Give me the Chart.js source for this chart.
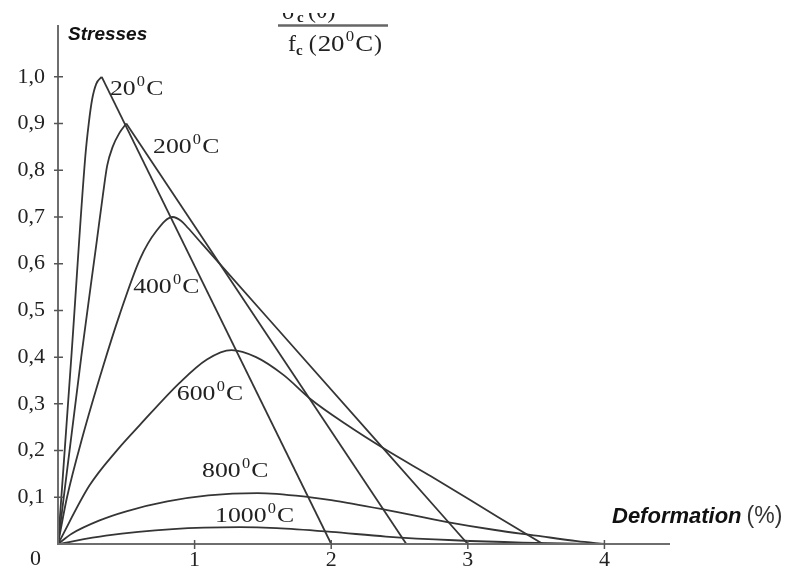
<!DOCTYPE html>
<html>
<head>
<meta charset="utf-8">
<script src="https://cdn.jsdelivr.net/npm/chart.js@4.4.1/dist/chart.umd.min.js"></script>
<style>
  html, body { margin: 0; padding: 0; background: #ffffff; }
  canvas { display: block; }
</style>
</head>
<body>
<canvas id="chart" width="789" height="571"></canvas>
<script>
// Normalised stress sigma_c(theta) / f_c(20°C) against strain (%) for each temperature
const temps = ['20', '200', '400', '600', '800', '1000'];

const eps20  = [0, 0.10, 0.20, 0.225, 0.25, 0.28, 0.32, 2.0];
const sig20  = [0, 0.41, 0.83, 0.90, 0.952, 0.985, 1.0, 0];

const eps200 = [0, 0.17, 0.28, 0.33, 0.36, 0.40, 0.45, 0.50, 2.55];
const sig200 = [0, 0.40, 0.64, 0.75, 0.81, 0.85, 0.88, 0.90, 0];

const eps400 = [0, 0.066, 0.18, 0.33, 0.45, 0.60, 0.72, 0.84, 0.90, 0.95, 1.05, 1.55, 2.41, 3.0];
const sig400 = [0, 0.10, 0.23, 0.38, 0.49, 0.61, 0.67, 0.70, 0.692, 0.677, 0.644, 0.479, 0.195, 0];

const eps600 = [0, 0.23, 0.43, 0.60, 0.89, 1.09, 1.27, 1.45, 1.65, 1.85, 2.1, 2.41, 2.73, 3.22, 3.55];
const sig600 = [0, 0.125, 0.20, 0.255, 0.345, 0.395, 0.415, 0.40, 0.362, 0.31, 0.258, 0.20, 0.145, 0.058, 0];

const eps800 = [0, 0.10, 0.30, 0.50, 0.80, 1.1, 1.46, 1.85, 2.0, 2.4, 2.85, 3.2, 3.5, 3.8, 4.0];
const sig800 = [0, 0.022, 0.05, 0.07, 0.091, 0.104, 0.109, 0.10, 0.094, 0.073, 0.047, 0.03, 0.018, 0.006, 0];

const eps1000 = [0, 0.35, 0.84, 1.33, 1.6, 2.0, 2.4, 2.9, 3.4, 4.0];
const sig1000 = [0, 0.018, 0.032, 0.036, 0.034, 0.026, 0.016, 0.008, 0.003, 0];

// Axis ticks
const xTickValues = [1, 2, 3, 4];
const xTickLabels = ['1', '2', '3', '4'];
const yTickValues = [0.1, 0.2, 0.3, 0.4, 0.5, 0.6, 0.7, 0.8, 0.9, 1.0];
const yTickLabels = ['0,1', '0,2', '0,3', '0,4', '0,5', '0,6', '0,7', '0,8', '0,9', '1,0'];

// Curve label anchors (strain %, stress ratio) at the left end of each text baseline
const labelAnchorX = [0.38, 0.696, 0.55, 0.87, 1.055, 1.15];
const labelAnchorY = [0.961, 0.837, 0.537, 0.308, 0.143, 0.047];

const seriesEps = [eps20, eps200, eps400, eps600, eps800, eps1000];
const seriesSig = [sig20, sig200, sig400, sig600, sig800, sig1000];

const LINE = { borderColor: '#353535', borderWidth: 1.8, pointRadius: 0, fill: false };

function toPoints(eps, sig, from, to) {
  const pts = [];
  for (let k = from; k <= to; k++) pts.push({ x: eps[k], y: sig[k] });
  return pts;
}

// 20°C and 200°C: smooth rising branch up to a sharp peak, then a straight softening branch.
// Other temperatures: one smooth curve.
const datasets = [];
temps.forEach((t, i) => {
  const eps = seriesEps[i], sig = seriesSig[i];
  const last = eps.length - 1;
  if (i < 2) {
    const peak = sig.indexOf(Math.max(...sig));
    datasets.push({ ...LINE, label: t + '°C', data: toPoints(eps, sig, 0, peak), cubicInterpolationMode: 'monotone' });
    datasets.push({ ...LINE, label: t + '°C', data: toPoints(eps, sig, peak, last), tension: 0 });
  } else {
    datasets.push({ ...LINE, label: t + '°C', data: toPoints(eps, sig, 0, last), cubicInterpolationMode: 'monotone' });
  }
});

const SERIF = '"Liberation Serif", "Times New Roman", serif';
const SANS = '"Liberation Sans", Arial, sans-serif';

// Draws "<num>⁰C" (slightly widened) and returns the x where the text ends
function drawDegLabel(ctx, x, y, num, size, widen) {
  ctx.save();
  ctx.translate(x, y);
  ctx.scale(widen, 1);
  ctx.font = size + 'px ' + SERIF;
  ctx.textAlign = 'left';
  ctx.textBaseline = 'alphabetic';
  ctx.fillText(num, 0, 0);
  let cx = ctx.measureText(num).width + 1;
  const supSize = Math.round(size * 0.62);
  ctx.font = supSize + 'px ' + SERIF;
  ctx.fillText('0', cx, -size * 0.42);
  cx += ctx.measureText('0').width + 1;
  ctx.font = size + 'px ' + SERIF;
  ctx.fillText('C', cx, 0);
  cx += ctx.measureText('C').width;
  ctx.restore();
  return x + cx * widen;
}

const decorations = {
  id: 'decorations',
  afterDatasetsDraw(chart) {
    const ctx = chart.ctx;
    const xs = chart.scales.x, ys = chart.scales.y;
    const area = chart.chartArea;
    const x0 = xs.getPixelForValue(0), y0 = ys.getPixelForValue(0);
    ctx.save();

    // axes
    ctx.strokeStyle = '#6e6e6e';
    ctx.lineWidth = 2;
    ctx.beginPath();
    ctx.moveTo(x0, area.top);
    ctx.lineTo(x0, y0);
    ctx.lineTo(area.right, y0);
    ctx.stroke();

    // tick marks crossing the axes
    ctx.lineWidth = 1.5;
    ctx.strokeStyle = '#555555';
    ctx.beginPath();
    yTickValues.forEach(v => {
      const py = ys.getPixelForValue(v);
      ctx.moveTo(x0 - 4, py);
      ctx.lineTo(x0 + 5, py);
    });
    xTickValues.forEach(v => {
      const px = xs.getPixelForValue(v);
      ctx.moveTo(px, y0 - 4);
      ctx.lineTo(px, y0 + 5);
    });
    ctx.stroke();

    // origin label
    ctx.fillStyle = '#222222';
    ctx.font = '22px ' + SERIF;
    ctx.textAlign = 'left';
    ctx.textBaseline = 'alphabetic';
    ctx.fillText('0', x0 - 28, y0 + 21);

    // curve labels
    temps.forEach((t, i) => {
      drawDegLabel(ctx, xs.getPixelForValue(labelAnchorX[i]), ys.getPixelForValue(labelAnchorY[i]), t, 22, 1.17);
    });

    // axis titles
    ctx.fillStyle = '#111111';
    ctx.font = 'italic bold 19px ' + SANS;
    ctx.fillText('Stresses', x0 + 10, area.top + 15);

    ctx.font = 'italic bold 22px ' + SANS;
    const defX = area.right - 58, defY = y0 - 21;
    ctx.fillText('Deformation', defX, defY);
    const dw = ctx.measureText('Deformation').width;
    ctx.font = '23px ' + SANS;
    ctx.fillStyle = '#333333';
    ctx.fillText('(%)', defX + dw + 5, defY);

    // ratio sigma_c(theta) / f_c(20°C), upper part cut at the image edge
    const fx = 280;
    ctx.strokeStyle = '#666666';
    ctx.lineWidth = 2.5;
    ctx.beginPath();
    ctx.moveTo(fx - 2, 25.5);
    ctx.lineTo(fx + 108, 25.5);
    ctx.stroke();

    ctx.fillStyle = '#222222';
    const by = 51;
    ctx.font = '24px ' + SERIF;
    ctx.fillText('f', fx + 8, by);
    let cx = fx + 8 + ctx.measureText('f').width;
    ctx.font = 'bold 15px ' + SERIF;
    ctx.fillText('c', cx, by + 4);
    cx += ctx.measureText('c').width + 6;
    ctx.font = '24px ' + SERIF;
    ctx.fillText('(', cx, by);
    cx += ctx.measureText('(').width + 1;
    cx = drawDegLabel(ctx, cx, by, '20', 24, 1.12) + 1;
    ctx.font = '24px ' + SERIF;
    ctx.fillText(')', cx, by);

    ctx.save();
    ctx.beginPath();
    ctx.rect(0, 13, 789, 12);
    ctx.clip();
    ctx.font = '24px ' + SERIF;
    ctx.fillText('σ', fx + 2, 19);
    ctx.font = 'bold 15px ' + SERIF;
    ctx.fillText('c', fx + 17, 22);
    ctx.font = '24px ' + SERIF;
    ctx.fillText('(θ)', fx + 28, 18);
    ctx.restore();

    ctx.restore();
  }
};

new Chart(document.getElementById('chart'), {
  type: 'line',
  data: { datasets },
  options: {
    responsive: false,
    animation: false,
    events: [],
    layout: { padding: { top: 25, right: 119, left: 0, bottom: 0 } },
    plugins: { legend: { display: false }, tooltip: { enabled: false } },
    scales: {
      x: {
        type: 'linear',
        min: 0,
        max: 4.48,
        afterFit(scale) { scale.height = 27; },
        afterBuildTicks(scale) { scale.ticks = xTickValues.map(v => ({ value: v })); },
        grid: { display: false },
        border: { display: false },
        ticks: {
          padding: -5,
          maxRotation: 0,
          autoSkip: false,
          color: '#222222',
          font: { family: SERIF, size: 22 },
          callback: (v) => xTickLabels[xTickValues.indexOf(v)] ?? ''
        }
      },
      y: {
        type: 'linear',
        min: 0,
        max: 1.111,
        afterFit(scale) { scale.width = 58; },
        afterBuildTicks(scale) { scale.ticks = yTickValues.map(v => ({ value: v })); },
        grid: { display: false },
        border: { display: false },
        ticks: {
          padding: 5,
          autoSkip: false,
          color: '#222222',
          font: { family: SERIF, size: 22 },
          callback: (v) => {
            const k = yTickValues.findIndex(t => Math.abs(t - v) < 1e-6);
            return k >= 0 ? yTickLabels[k] : '';
          }
        }
      }
    }
  },
  plugins: [decorations]
});
</script>
</body>
</html>
